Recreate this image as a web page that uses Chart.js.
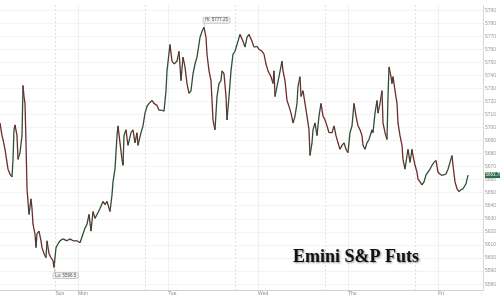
<!DOCTYPE html>
<html>
<head>
<meta charset="utf-8">
<script src="https://cdn.jsdelivr.net/npm/chart.js@4/dist/chart.umd.min.js"></script>
<style>
html,body{margin:0;padding:0;background:#fff;}
#wrap{width:500px;height:298px;position:relative;}
</style>
</head>
<body>
<div id="wrap"><canvas id="c" width="500" height="298"></canvas></div>
<script>
// time in 16-minute bars (90 bars per day), session-compressed
const barIndex = [0,2,3,5,7,8,10,12,13,14,15,17,18,20,22,23,24,25,26,27,28,29,31,32,33,35,36,37,39,41,42,44,46,47,49,51,53,54,56,58,60,63,67,70,73,77,80,83,85,87,89,91,93,95,97,100,103,105,107,110,112,113,115,117,118,120,122,123,124,126,128,131,133,135,137,138,141,143,145,147,149,152,154,157,159,162,164,166,167,170,172,174,177,179,181,183,185,187,189,191,193,195,197,200,202,204,206,207,209,211,213,215,217,219,221,222,224,226,227,229,231,233,235,237,240,243,245,247,249,252,254,257,259,262,264,266,268,271,273,274,275,277,279,282,283,285,287,289,291,293,295,297,298,300,301,303,305,307,309,310,312,313,315,317,319,321,323,325,327,329,332,334,336,338,340,342,344,346,348,350,352,354,356,358,360,362,363,365,367,369,372,373,375,377,378,380,382,383,385,387,388,389,391,392,393,395,397,398,400,402,403,405,407,408,410,412,413,415,417,418,420,422,424,426,428,430,432,434,436,438,441,443,446,448,450,452,453,455,457,459,461,463,466,468];
const closePrice = [5703.75,5694,5691,5683.5,5673.5,5668.25,5664.5,5662.25,5675.75,5698.5,5702.25,5694,5675.75,5681,5694,5732.5,5724,5718.75,5688.5,5653.25,5643.5,5633.5,5645.5,5638,5626,5618.5,5608,5618.5,5620.75,5613.25,5608,5603.5,5600.25,5613.25,5603.5,5600.25,5598,5592.75,5608,5611,5613.25,5614.75,5613.25,5614.75,5613.25,5613.25,5611.75,5618.5,5623,5626,5633.5,5620.75,5635.75,5630.5,5633.5,5638,5643.5,5641,5643.5,5635.75,5648.5,5658.5,5668.25,5694,5701.5,5688.5,5675.75,5671.25,5694,5698.5,5686.5,5696.25,5698.5,5688.5,5696.25,5686.5,5696.25,5701.5,5711.25,5716.5,5718.75,5721,5718.75,5717.25,5713.5,5713.5,5712.75,5728.5,5743.75,5764,5751.25,5749,5751.25,5758.75,5736.25,5754.25,5746.75,5734,5726.5,5728.5,5741.5,5749,5754.25,5769.5,5774,5777.25,5769.5,5756.5,5743.75,5736.25,5706,5698.5,5724,5734,5736.25,5743.75,5741.5,5724,5706,5724,5743.75,5756.5,5758.75,5764,5771.75,5766.5,5762,5769.5,5771.75,5766.5,5762,5762.5,5760.25,5758.75,5756.5,5749,5743.75,5739.25,5734,5743.75,5724,5731.75,5739.25,5751.25,5743.75,5736.25,5721,5716.5,5711.25,5703.75,5709,5718.75,5731.75,5739.25,5724,5728.5,5718.75,5709,5698.5,5678.75,5688.5,5698.5,5703.75,5694,5709,5718.75,5709,5706,5701.5,5696.25,5696.25,5701.5,5694,5688.5,5683.5,5686.5,5688.5,5683.5,5681,5696.25,5701.5,5718.75,5709,5701.5,5698.5,5694,5686.5,5683.5,5688.5,5691,5698.5,5696.25,5711.25,5721,5711.25,5718.75,5728.5,5703.75,5696.25,5691,5724,5746.75,5739.25,5734,5739.25,5728.5,5718.75,5703.75,5694,5686.5,5675.75,5668.25,5678.75,5683.5,5673.5,5683.5,5678.75,5671.25,5666,5660.75,5658.5,5656.25,5658.5,5663.75,5666,5668.25,5671.25,5673.5,5675,5666,5663.75,5663.75,5664.5,5668.25,5673.5,5678.75,5671.25,5658.5,5653.25,5651,5652.5,5653.25,5657,5663.75];

const dayTicks = [55.5,78,168,258,348,438];
const dayLabels = ['Sun','Mon','Tue','Wed','Thu','Fri'];
const sessionTicks = [55.5,145.5,235.5,325.5,415.5];
const hiText = 'Hi: 5777.25';
const loText = 'Lo: 5596.5';
const titleText = 'Emini S&P Futs';

const points = barIndex.map((b,i)=>({x:b, y:closePrice[i]}));
const allTicks = Array.from(new Set([...dayTicks, ...sessionTicks])).sort((a,b)=>a-b);

function roundRect(ctx,x,y,w,h,r){
  ctx.beginPath();
  ctx.moveTo(x+r,y);ctx.lineTo(x+w-r,y);ctx.quadraticCurveTo(x+w,y,x+w,y+r);
  ctx.lineTo(x+w,y+h-r);ctx.quadraticCurveTo(x+w,y+h,x+w-r,y+h);
  ctx.lineTo(x+r,y+h);ctx.quadraticCurveTo(x,y+h,x,y+h-r);
  ctx.lineTo(x,y+r);ctx.quadraticCurveTo(x,y,x+r,y);ctx.closePath();
}

const overlay = {
  id:'overlay',
  afterDatasetsDraw(chart){
    const ctx = chart.ctx, xs = chart.scales.x, ys = chart.scales.y, ca = chart.chartArea;
    let hi=0, lo=0;
    closePrice.forEach((v,i)=>{ if(v>closePrice[hi]) hi=i; if(v<closePrice[lo]) lo=i; });
    ctx.save();
    ctx.font = '4.5px Arial, "Liberation Sans", sans-serif';
    ctx.textBaseline='middle';
    const hx = xs.getPixelForValue(barIndex[hi]), hy = ys.getPixelForValue(closePrice[hi]);
    let w = ctx.measureText(hiText).width + 4;
    ctx.strokeStyle='#999'; ctx.lineWidth=0.5;
    ctx.beginPath(); ctx.moveTo(hx+0.5,hy-1); ctx.lineTo(hx+0.5,hy-4); ctx.stroke();
    roundRect(ctx,hx-1,hy-10,w,6,1.5); ctx.fillStyle='#f2f2f2'; ctx.fill(); ctx.stroke();
    ctx.fillStyle='#555'; ctx.textAlign='left'; ctx.fillText(hiText,hx+1,hy-7);
    const lx = xs.getPixelForValue(barIndex[lo]), ly = ys.getPixelForValue(closePrice[lo]);
    w = ctx.measureText(loText).width + 4;
    ctx.beginPath(); ctx.moveTo(lx+0.5,ly+1); ctx.lineTo(lx+0.5,ly+5); ctx.stroke();
    roundRect(ctx,lx-1,ly+5,w,6,1.5); ctx.fillStyle='#f2f2f2'; ctx.fill(); ctx.stroke();
    ctx.fillStyle='#555'; ctx.fillText(loText,lx+1,ly+8);
    const last = closePrice[closePrice.length-1];
    const py = ys.getPixelForValue(last);
    ctx.fillStyle='#2f6b45';
    ctx.fillRect(ca.right+2, py-3, 15, 6);
    ctx.fillStyle='#fff'; ctx.textAlign='left';
    ctx.fillText(last.toFixed(2), ca.right+2.5, py);
    ctx.font = 'bold 18px "Liberation Serif", "DejaVu Serif", serif';
    ctx.textBaseline='alphabetic';
    ctx.shadowColor='rgba(0,0,0,0.45)'; ctx.shadowBlur=2; ctx.shadowOffsetX=1; ctx.shadowOffsetY=1;
    ctx.fillStyle='#111';
    ctx.fillText(titleText, 293, 262);
    ctx.restore();
  }
};

new Chart(document.getElementById('c'), {
  type:'line',
  data:{ datasets:[{
    data: points,
    borderWidth:1.3,
    pointRadius:0,
    tension:0,
    borderColor:'#3f3230',
    segment:{ borderColor: c => c.p1.parsed.y >= c.p0.parsed.y ? '#2f4f38' : '#6e2c2c' }
  }]},
  options:{
    responsive:false, animation:false, devicePixelRatio:1,
    layout:{padding:0},
    plugins:{legend:{display:false}, tooltip:{enabled:false}},
    scales:{
      x:{
        type:'linear', min:0, max:483,
        afterBuildTicks: s => { s.ticks = allTicks.map(v=>({value:v})); },
        afterFit: s => { s.height = 8; },
        ticks:{
          autoSkip:false, maxRotation:0, align:'start', padding:1,
          color:'#8a8a8a', font:{size:5, family:'Arial, "Liberation Sans", sans-serif'},
          callback: v => { const k = dayTicks.indexOf(v); return k>=0 ? dayLabels[k] : ''; }
        },
        grid:{ drawTicks:false, color: c => sessionTicks.includes(c.tick && c.tick.value) ? '#d8d8d8' : '#ececec', lineWidth:0.8 },
        border:{ color:'#d0d0d0', dash: c => (c.tick && sessionTicks.includes(c.tick.value)) ? [2,2] : [] }
      },
      y:{
        position:'right', min:5575.5, max:5794.3,
        afterFit: s => { s.width = 17; },
        ticks:{ stepSize:10, includeBounds:false, padding:2, color:'#9a9a9a',
          font:{size:5, family:'Arial, "Liberation Sans", sans-serif'},
          callback: v => String(v) },
        grid:{ drawTicks:false, color:'#f0f0f0', lineWidth:0.8 },
        border:{ color:'#d8d8d8' }
      }
    }
  },
  plugins:[overlay]
});
</script>
</body>
</html>
